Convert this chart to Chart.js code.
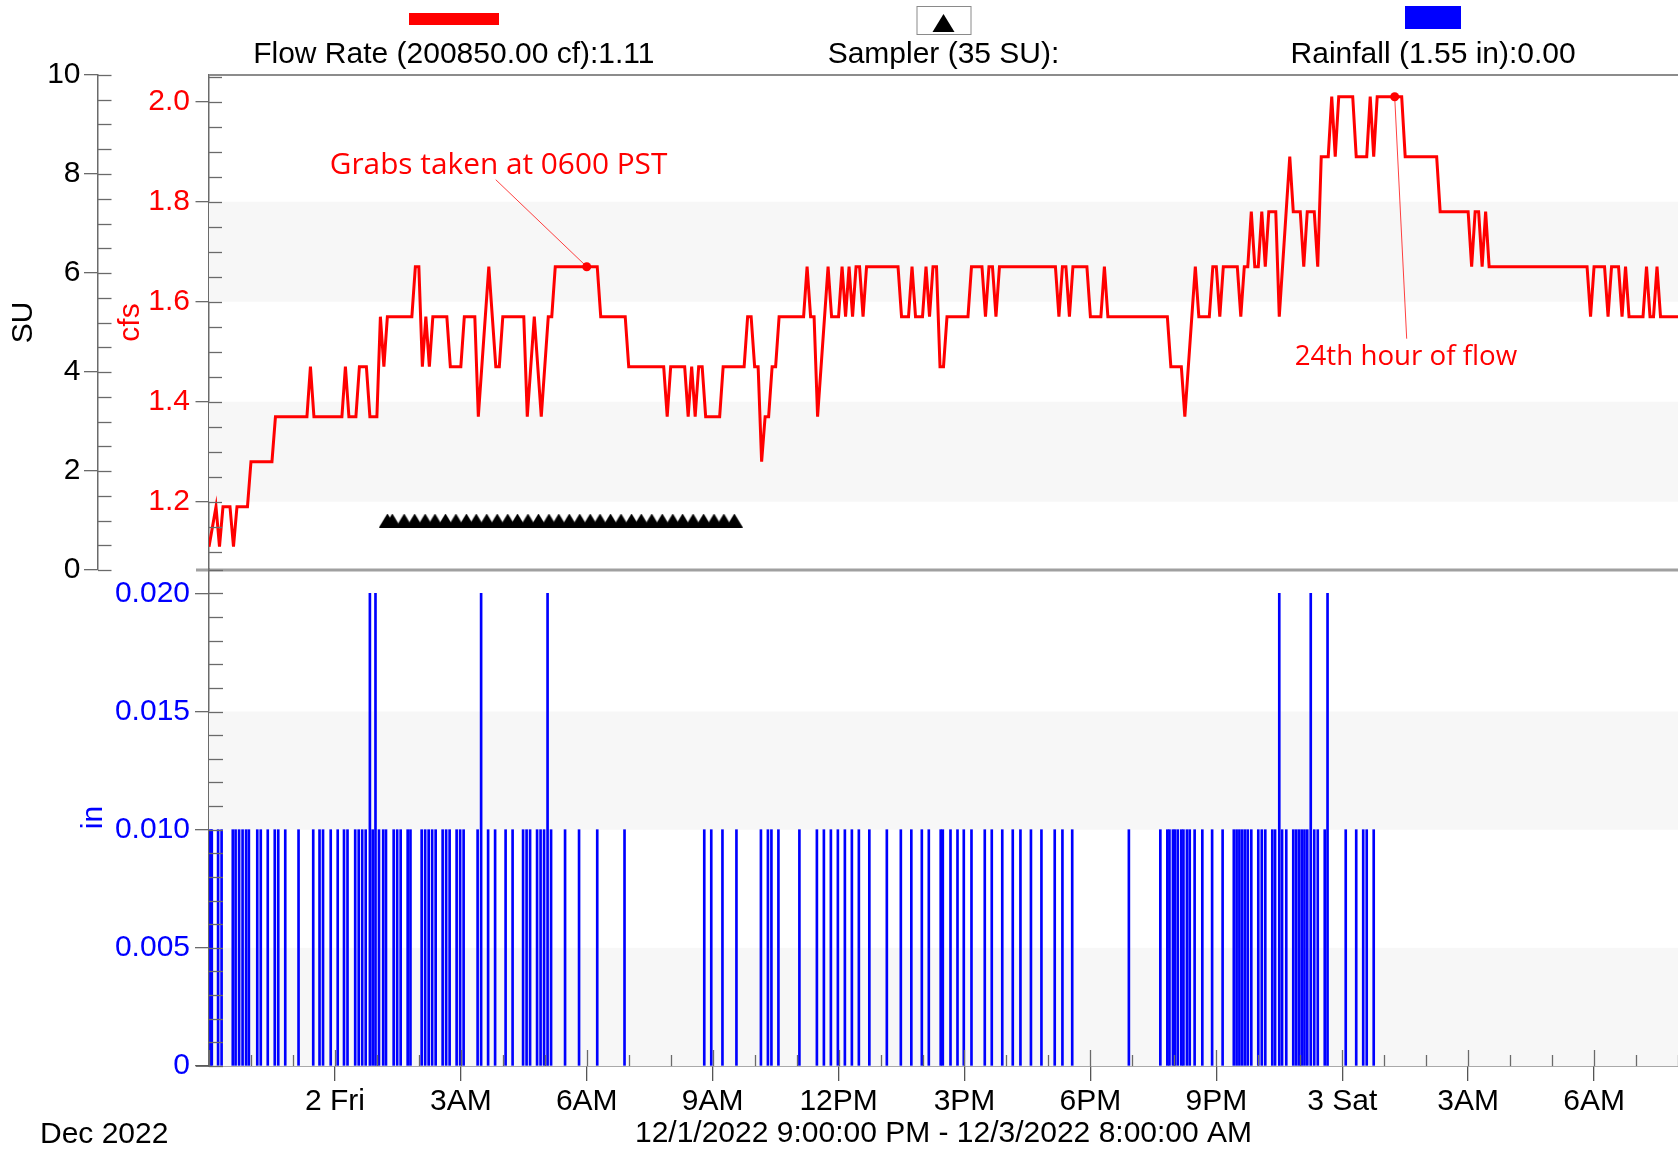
<!DOCTYPE html>
<html lang="en">
<head>
<meta charset="UTF-8">
<title>Flow Rate / Sampler / Rainfall</title>
<style>
  body { margin: 0; background: #fff; }
  #page { position: relative; width: 1678px; height: 1152px; overflow: hidden;
          font-family: 'Liberation Sans', Arial, sans-serif; }
  canvas { position: absolute; left: 0; }
  #flowChart { top: 0; }
  #rainChart { top: 540px; }
  .legText { position: absolute; top: 38px; font-size: 30px; line-height: 30px; color: #000;
             white-space: nowrap; transform: translateX(-50%); }
  .legBox { position: absolute; transform: translateX(-50%); box-sizing: border-box; }
  #month { position: absolute; left: 40px; top: 1118px; font-size: 30px; line-height: 30px; color: #000; }
</style>
</head>
<body>
<div id="page">
  <canvas id="flowChart" width="1678" height="600"></canvas>
  <canvas id="rainChart" width="1678" height="612"></canvas>
  <div id="legend"></div>
  <div id="month"></div>
</div>

<script src="https://cdn.jsdelivr.net/npm/chart.js"></script>
<script>
// ---- data (time = minutes after 12/1/2022 9:00 PM) ----
const legendLabels = ['Flow Rate (200850.00 cf):1.11', 'Sampler (35 SU):', 'Rainfall (1.55 in):0.00'];
const rangeLabel = '12/1/2022 9:00:00 PM - 12/3/2022 8:00:00 AM';
const monthLabel = 'Dec 2022';

const xTickMinutes = [180, 360, 540, 720, 900, 1080, 1260, 1440, 1620, 1800, 1980];
const xTickLabels = ['2 Fri', '3AM', '6AM', '9AM', '12PM', '3PM', '6PM', '9PM', '3 Sat', '3AM', '6AM'];
const suTicks = [0, 2, 4, 6, 8, 10];
const cfsTicks = [1.2, 1.4, 1.6, 1.8, 2.0];
const rainTicks = [0, 0.005, 0.010, 0.015, 0.020];
const rainTickLabels = ['0', '0.005', '0.010', '0.015', '0.020'];

const flowTimes = [
  0, 10, 15, 20, 30, 35, 40, 55, 60, 90, 95, 140, 145, 150, 190, 195, 200, 210, 215, 225,
  230, 240, 245, 250, 255, 290, 295, 300, 305, 310, 315, 320, 340, 345, 360, 365, 380, 385, 400, 410,
  415, 420, 450, 455, 465, 475, 485, 490, 495, 555, 560, 595, 600, 650, 655, 660, 680, 685, 690, 695,
  700, 705, 710, 730, 735, 765, 770, 775, 780, 785, 790, 795, 800, 805, 810, 815, 850, 855, 860, 865,
  870, 885, 890, 900, 905, 910, 915, 920, 925, 930, 935, 940, 985, 990, 1000, 1005, 1010, 1020, 1025, 1030,
  1035, 1040, 1045, 1050, 1055, 1085, 1090, 1105, 1110, 1115, 1120, 1125, 1130, 1210, 1215, 1220, 1225, 1230, 1235, 1255,
  1260, 1275, 1280, 1285, 1370, 1375, 1390, 1395, 1410, 1415, 1430, 1435, 1440, 1445, 1450, 1470, 1475, 1480, 1485, 1490,
  1495, 1500, 1505, 1510, 1515, 1525, 1530, 1545, 1550, 1560, 1565, 1570, 1580, 1585, 1590, 1600, 1605, 1610, 1615, 1635,
  1640, 1655, 1660, 1665, 1670, 1705, 1710, 1755, 1760, 1800, 1805, 1810, 1815, 1820, 1825, 1830, 1970, 1975, 1980, 1995,
  2000, 2005, 2015, 2020, 2025, 2030, 2050, 2055, 2060, 2065, 2070, 2075, 2100
];
const flowValues = [
  1.11, 1.19, 1.11, 1.19, 1.19, 1.11, 1.19, 1.19, 1.28, 1.28, 1.37, 1.37, 1.47, 1.37, 1.37, 1.47, 1.37, 1.37, 1.47, 1.47,
  1.37, 1.37, 1.57, 1.47, 1.57, 1.57, 1.67, 1.67, 1.47, 1.57, 1.47, 1.57, 1.57, 1.47, 1.47, 1.57, 1.57, 1.37, 1.67, 1.47,
  1.47, 1.57, 1.57, 1.37, 1.57, 1.37, 1.57, 1.57, 1.67, 1.67, 1.57, 1.57, 1.47, 1.47, 1.37, 1.47, 1.47, 1.37, 1.47, 1.37,
  1.47, 1.47, 1.37, 1.37, 1.47, 1.47, 1.57, 1.57, 1.47, 1.47, 1.28, 1.37, 1.37, 1.47, 1.47, 1.57, 1.57, 1.67, 1.57, 1.57,
  1.37, 1.67, 1.57, 1.57, 1.67, 1.57, 1.67, 1.57, 1.67, 1.67, 1.57, 1.67, 1.67, 1.57, 1.57, 1.67, 1.57, 1.57, 1.67, 1.57,
  1.67, 1.67, 1.47, 1.47, 1.57, 1.57, 1.67, 1.67, 1.57, 1.67, 1.67, 1.57, 1.67, 1.67, 1.57, 1.67, 1.67, 1.57, 1.67, 1.67,
  1.57, 1.57, 1.67, 1.57, 1.57, 1.47, 1.47, 1.37, 1.67, 1.57, 1.57, 1.67, 1.67, 1.57, 1.67, 1.67, 1.57, 1.67, 1.67, 1.78,
  1.67, 1.67, 1.78, 1.67, 1.78, 1.78, 1.57, 1.89, 1.78, 1.78, 1.67, 1.78, 1.78, 1.67, 1.89, 1.89, 2.01, 1.89, 2.01, 2.01,
  1.89, 1.89, 2.01, 1.89, 2.01, 2.01, 1.89, 1.89, 1.78, 1.78, 1.67, 1.78, 1.78, 1.67, 1.78, 1.67, 1.67, 1.57, 1.67, 1.67,
  1.57, 1.67, 1.67, 1.57, 1.67, 1.57, 1.57, 1.67, 1.57, 1.57, 1.67, 1.57, 1.57
];

const sampleTimes = [
  255, 262, 279, 294, 309, 323, 338, 353, 368, 382, 397, 412, 427, 441, 456, 471, 486, 500,
  515, 530, 545, 559, 574, 589, 604, 618, 633, 648, 663, 677, 692, 707, 722, 736, 751
];
const sampleSU = [
  1, 1, 1, 1, 1, 1, 1, 1, 1, 1, 1, 1, 1, 1, 1, 1, 1, 1,
  1, 1, 1, 1, 1, 1, 1, 1, 1, 1, 1, 1, 1, 1, 1, 1, 1
];

const markerTimes = [540, 1695];
const markerValues = [1.67, 2.01];
const markerNotes = ['Grabs taken at 0600 PST', '24th hour of flow'];

const rainTimes = [
  2, 4, 13, 18, 34, 38, 43, 48, 53, 57,
  69, 74, 84, 94, 99, 109, 128, 149, 158, 163,
  174, 184, 193, 198, 209, 214, 219, 224, 230, 234,
  238, 243, 249, 253, 264, 269, 274, 284, 288, 304,
  309, 314, 319, 324, 334, 339, 344, 354, 359, 364,
  384, 389, 399, 409, 424, 434, 449, 454, 459, 469,
  474, 479, 484, 489, 509, 529, 555, 594, 708, 718,
  734, 754, 789, 799, 804, 814, 844, 869, 879, 889,
  899, 909, 919, 929, 944, 969, 989, 1004, 1019, 1029,
  1046, 1049, 1060, 1070, 1079, 1090, 1109, 1119, 1134, 1149,
  1160, 1175, 1190, 1209, 1220, 1234, 1315, 1360, 1370, 1373,
  1378, 1381, 1385, 1390, 1393, 1398, 1402, 1409, 1420, 1434,
  1449, 1465, 1469, 1473, 1477, 1481, 1485, 1490, 1500, 1505,
  1510, 1520, 1524, 1530, 1534, 1540, 1550, 1554, 1558, 1562,
  1566, 1570, 1575, 1580, 1585, 1595, 1599, 1625, 1640, 1650,
  1655, 1665
];
const rainValues = [
  0.01, 0.01, 0.01, 0.01, 0.01, 0.01, 0.01, 0.01, 0.01, 0.01,
  0.01, 0.01, 0.01, 0.01, 0.01, 0.01, 0.01, 0.01, 0.01, 0.01,
  0.01, 0.01, 0.01, 0.01, 0.01, 0.01, 0.01, 0.01, 0.02, 0.01,
  0.02, 0.01, 0.01, 0.01, 0.01, 0.01, 0.01, 0.01, 0.01, 0.01,
  0.01, 0.01, 0.01, 0.01, 0.01, 0.01, 0.01, 0.01, 0.01, 0.01,
  0.01, 0.02, 0.01, 0.01, 0.01, 0.01, 0.01, 0.01, 0.01, 0.01,
  0.01, 0.01, 0.02, 0.01, 0.01, 0.01, 0.01, 0.01, 0.01, 0.01,
  0.01, 0.01, 0.01, 0.01, 0.01, 0.01, 0.01, 0.01, 0.01, 0.01,
  0.01, 0.01, 0.01, 0.01, 0.01, 0.01, 0.01, 0.01, 0.01, 0.01,
  0.01, 0.01, 0.01, 0.01, 0.01, 0.01, 0.01, 0.01, 0.01, 0.01,
  0.01, 0.01, 0.01, 0.01, 0.01, 0.01, 0.01, 0.01, 0.01, 0.01,
  0.01, 0.01, 0.01, 0.01, 0.01, 0.01, 0.01, 0.01, 0.01, 0.01,
  0.01, 0.01, 0.01, 0.01, 0.01, 0.01, 0.01, 0.01, 0.01, 0.01,
  0.01, 0.01, 0.01, 0.02, 0.01, 0.01, 0.01, 0.01, 0.01, 0.01,
  0.01, 0.01, 0.02, 0.01, 0.01, 0.01, 0.02, 0.01, 0.01, 0.01,
  0.01, 0.01
];

// ---- styling ----
const FONT = "'Liberation Sans', Arial, sans-serif";
Chart.defaults.font.family = FONT;
Chart.defaults.font.size = 30;
const RED = '#ff0000', BLUE = '#0000ff', AXIS = '#6a6a6a';

function pts(xs, ys) { return xs.map((x, i) => ({x: x, y: ys[i]})); }

// sampler marker: black triangle
function triangleMark() {
  const c = document.createElement('canvas');
  c.width = 17; c.height = 14;
  const g = c.getContext('2d');
  g.fillStyle = '#000';
  g.beginPath(); g.moveTo(0, 14); g.lineTo(17, 14); g.lineTo(8.5, 0); g.closePath(); g.fill();
  return c;
}

// light alternating bands
const bands = {
  id: 'bands',
  beforeDatasetsDraw(chart, args, opts) {
    const {ctx, chartArea: a} = chart;
    const s = chart.scales[opts.axis];
    ctx.save();
    ctx.fillStyle = opts.color;
    opts.ranges.forEach(r => {
      const y1 = s.getPixelForValue(r[1]), y2 = s.getPixelForValue(r[0]);
      ctx.fillRect(a.left, y1, a.right - a.left, y2 - y1);
    });
    ctx.restore();
  }
};

// tick marks pointing into the plot
const innerTicks = {
  id: 'innerTicks',
  afterDraw(chart, args, opts) {
    const ctx = chart.ctx;
    ctx.save();
    ctx.strokeStyle = AXIS;
    ctx.lineWidth = 1.3;
    opts.axes.forEach(o => {
      const s = chart.scales[o.id];
      const k0 = Math.ceil(s.min / o.step - 1e-6), k1 = Math.floor(s.max / o.step + 1e-6);
      for (let k = k0; k <= k1; k++) {
        const v = k * o.step;
        const p = Math.round(s.getPixelForValue(v)) + 0.5;
        ctx.beginPath();
        if (o.horizontal) {
          const len = (o.majorEvery && k % o.majorEvery === 0) ? o.majorLen : o.len;
          ctx.moveTo(p, s.top); ctx.lineTo(p, s.top - len);
        } else {
          ctx.moveTo(s.right, p); ctx.lineTo(s.right + o.len, p);
        }
        ctx.stroke();
      }
    });
    ctx.restore();
  }
};

// frame lines of the panels
const frame = {
  id: 'frame',
  afterDraw(chart, args, opts) {
    const {ctx, chartArea: a} = chart;
    ctx.save();
    (opts.lines || []).forEach(l => {
      ctx.strokeStyle = l.color;
      ctx.lineWidth = l.width;
      const y = l.edge === 'top' ? a.top : a.bottom;
      ctx.beginPath();
      ctx.moveTo(a.left - l.extendLeft, y);
      ctx.lineTo(l.stopAtLeft ? a.left : a.right, y);
      ctx.stroke();
    });
    ctx.restore();
  }
};

// leader lines + notes for the marked points
const notes = {
  id: 'notes',
  afterDatasetsDraw(chart, args, opts) {
    const ctx = chart.ctx;
    const xs = chart.scales.x, ys = chart.scales[opts.axis];
    ctx.save();
    opts.items.forEach((it, i) => {
      const mx = xs.getPixelForValue(markerTimes[i]);
      const my = ys.getPixelForValue(markerValues[i]);
      ctx.strokeStyle = 'rgba(255,0,0,0.75)';
      ctx.lineWidth = 1;
      ctx.beginPath();
      ctx.moveTo(mx + it.line[0], my + it.line[1]);
      ctx.lineTo(mx, my);
      ctx.stroke();
      ctx.fillStyle = RED;
      ctx.font = it.font;
      ctx.textBaseline = 'alphabetic';
      ctx.textAlign = 'left';
      ctx.fillText(markerNotes[i], mx + it.text[0], my + it.text[1]);
    });
    ctx.restore();
  }
};

function yAxis(opt) {
  return {
    position: 'left',
    weight: opt.weight,
    min: opt.min, max: opt.max,
    afterFit: s => { s.width = opt.width; },
    afterBuildTicks: s => { s.ticks = opt.ticks.map(v => ({value: v})); },
    ticks: { color: opt.color, padding: opt.pad, callback: (v, i) => opt.labels[i] },
    grid: { drawOnChartArea: false, tickLength: opt.tick, color: AXIS, lineWidth: 1.3 },
    border: { color: AXIS, width: 1.5 },
    title: { display: true, text: opt.title, color: opt.color, padding: {top: opt.titlePad, bottom: 0} }
  };
}

const flowChart = new Chart(document.getElementById('flowChart'), {
  type: 'line',
  data: {
    datasets: [
      { label: legendLabels[0], data: pts(flowTimes, flowValues), yAxisID: 'yCfs',
        borderColor: RED, borderWidth: 3, pointRadius: 0, tension: 0 },
      { label: legendLabels[1], data: pts(sampleTimes, sampleSU), yAxisID: 'ySU',
        showLine: false, pointStyle: triangleMark(), pointRadius: 8 },
      { label: 'marks', data: pts(markerTimes, markerValues), yAxisID: 'yCfs', showLine: false,
        pointRadius: 4.5, pointBackgroundColor: RED, pointBorderWidth: 0 }
    ]
  },
  options: {
    responsive: false, animation: false, events: [],
    layout: { autoPadding: false, padding: { top: 75, bottom: 30, left: 0, right: 0 } },
    plugins: {
      legend: { display: false }, tooltip: { enabled: false },
      bands: { axis: 'yCfs', color: '#f7f7f7', ranges: [[1.2, 1.4], [1.6, 1.8]] },
      innerTicks: { axes: [{id: 'ySU', step: 0.5, len: 13.5}, {id: 'yCfs', step: 0.05, len: 13}] },
      frame: { lines: [
        {edge: 'top', color: '#8c8c8c', width: 2, extendLeft: 0},
        {edge: 'bottom', color: '#a0a0a0', width: 3, extendLeft: 13}
      ] },
      notes: { axis: 'yCfs', items: [
        {line: [-91, -87], text: [-257, -93], font: "29.8px 'Open Sans'"},
        {line: [12, 242], text: [-100, 268], font: "27.7px 'Open Sans'"}
      ] }
    },
    scales: {
      x: { type: 'linear', min: 0, max: 2100, display: false },
      ySU: yAxis({weight: 2, min: 0, max: 10, width: 98, ticks: suTicks, labels: suTicks.map(String),
                  color: '#000', pad: 3.5, tick: 14, title: 'SU', titlePad: 6}),
      yCfs: yAxis({weight: 1, min: 1.0634, max: 2.0534, width: 111, ticks: cfsTicks,
                   labels: cfsTicks.map(v => v.toFixed(1)), color: RED, pad: 5.5, tick: 13.5,
                   title: 'cfs', titlePad: 15})
    }
  },
  plugins: [bands, innerTicks, frame, notes]
});

const rainChart = new Chart(document.getElementById('rainChart'), {
  type: 'bar',
  data: {
    datasets: [
      { label: legendLabels[2], data: pts(rainTimes, rainValues), xAxisID: 'x', yAxisID: 'yIn',
        backgroundColor: BLUE, barThickness: 2, borderWidth: 0 }
    ]
  },
  options: {
    responsive: false, animation: false, events: [],
    layout: { autoPadding: false, padding: { top: 29, bottom: 0, left: 0, right: 0 } },
    plugins: {
      legend: { display: false }, tooltip: { enabled: false },
      bands: { axis: 'yIn', color: '#f7f7f7', ranges: [[0, 0.005], [0.010, 0.015]] },
      innerTicks: { axes: [
        {id: 'yIn', step: 0.001, len: 14},
        {id: 'x', step: 60, len: 11, majorEvery: 3, majorLen: 16, horizontal: true}
      ] },
      frame: { lines: [{edge: 'bottom', color: '#555', width: 1.5, extendLeft: 13, stopAtLeft: true}] }
    },
    scales: {
      x: {
        type: 'linear', min: 0, max: 2100, offset: false,
        afterFit: s => { s.height = 86; },
        afterBuildTicks: s => { s.ticks = xTickMinutes.map(v => ({value: v})); },
        ticks: { color: '#000', padding: 3, maxRotation: 0, autoSkip: false,
                 callback: (v, i) => xTickLabels[i] },
        grid: { offset: false, drawOnChartArea: false, tickLength: 15, color: '#555', lineWidth: 1.3 },
        border: { color: '#555', width: 1.5 },
        title: { display: true, text: rangeLabel, color: '#000', padding: {top: 0, bottom: 0.5} }
      },
      yIn: yAxis({weight: 1, min: 0, max: 0.02103, width: 209, ticks: rainTicks, labels: rainTickLabels,
                  color: BLUE, pad: 5, tick: 14, title: 'in', titlePad: 76})
    }
  },
  plugins: [bands, innerTicks, frame]
});

// ---- legend across the top, one item per third of the plot ----
(function buildLegend() {
  const a = flowChart.chartArea;
  const third = (a.right - a.left) / 3;
  const leg = document.getElementById('legend');
  const boxes = [
    {top: 13, w: 90, h: 12, style: 'background:' + RED},
    {top: 6, w: 55, h: 29, style: 'background:#fff;border:1.5px solid #8a8a8a'},
    {top: 6, w: 56, h: 23, style: 'background:' + BLUE}
  ];
  legendLabels.forEach((txt, i) => {
    const cx = a.left + third * (i + 0.5);
    const b = boxes[i];
    const box = document.createElement('div');
    box.className = 'legBox';
    box.style.cssText = 'left:' + cx + 'px;top:' + b.top + 'px;width:' + b.w + 'px;height:' + b.h + 'px;' + b.style;
    if (i === 1) {
      const tri = document.createElement('div');
      tri.style.cssText = 'position:absolute;left:50%;top:7px;transform:translateX(-50%);width:0;height:0;' +
        'border-left:11px solid transparent;border-right:11px solid transparent;border-bottom:18px solid #000;';
      box.appendChild(tri);
    }
    leg.appendChild(box);
    const t = document.createElement('div');
    t.className = 'legText';
    t.style.left = cx + 'px';
    t.textContent = txt;
    leg.appendChild(t);
  });
  document.getElementById('month').textContent = monthLabel;
})();
</script>
</body>
</html>
